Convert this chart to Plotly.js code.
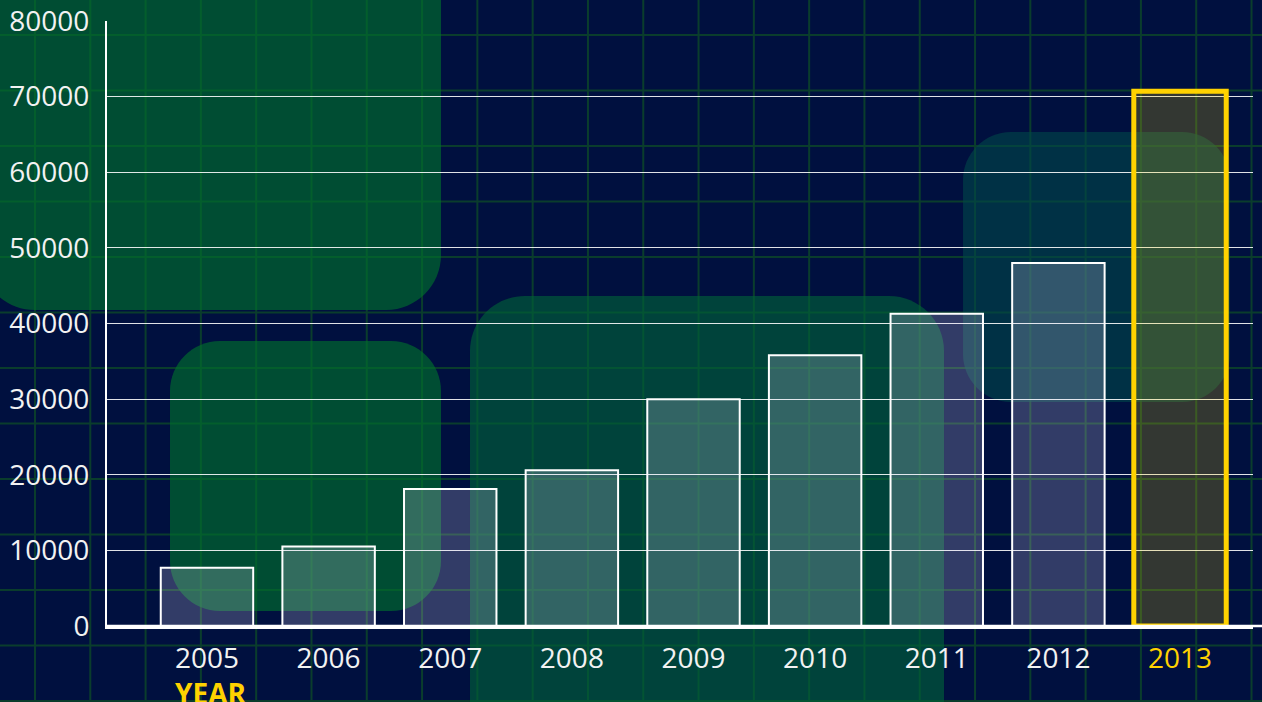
<!DOCTYPE html>
<html>
<head>
<meta charset="utf-8">
<script src="https://cdn.plot.ly/plotly-3.0.1.min.js"></script>
<style>
  html, body { margin: 0; padding: 0; background: #00103f; }
  #chart {
    width: 1262px; height: 702px;
    background-color: #00103f;
    background-image:
      linear-gradient(to right, #0a3d2c 0, #0a3d2c 2px, transparent 2px),
      linear-gradient(to bottom, #0a3d2c 0, #0a3d2c 2px, transparent 2px);
    background-size: 55.3px 55.5px;
    background-position: 34px 34px;
  }
</style>
</head>
<body>
<div id="chart"></div>
<script>
// ---- data ----
const years = ['2005', '2006', '2007', '2008', '2009', '2010', '2011', '2012', '2013'];
const values = [7700, 10500, 18100, 20600, 30000, 35800, 41300, 48000, 70700];
const yTicks = [0, 10000, 20000, 30000, 40000, 50000, 60000, 70000, 80000];
const highlightYear = '2013';
const xTitle = 'YEAR';

// ---- styles ----
const YELLOW = '#ffd200';
const TXT = '#f2f2f2';
const FONT = 'Open Sans, Noto Sans, sans-serif';
const FS = 28;

const fillColors = years.map(y => y === highlightYear ? 'rgba(255,215,0,0.2)' : 'rgba(235,225,255,0.21)');
const lineColors = years.map(y => y === highlightYear ? YELLOW : '#ffffff');
const lineWidths = years.map(y => y === highlightYear ? 5 : 2);
const tickText = years.map(y => y === highlightYear ? '<span style="color:' + YELLOW + '">' + y + '</span>' : y);

// ---- layout geometry (pixels) ----
const W = 1262, H = 702, ML = 107, MR = 9, MT = 21, MB = 76;
const PW = W - ML - MR, PH = H - MT - MB;
const X = px => ((px - ML) / PW).toFixed(5);
const Y = py => ((H - MB - py) / PH).toFixed(5);

function roundRect(x0, y0, x1, y1, r) {
  const k = r * 0.448;
  return 'M' + X(x0 + r) + ',' + Y(y0) +
    ' L' + X(x1 - r) + ',' + Y(y0) +
    ' C' + X(x1 - k) + ',' + Y(y0) + ' ' + X(x1) + ',' + Y(y0 + k) + ' ' + X(x1) + ',' + Y(y0 + r) +
    ' L' + X(x1) + ',' + Y(y1 - r) +
    ' C' + X(x1) + ',' + Y(y1 - k) + ' ' + X(x1 - k) + ',' + Y(y1) + ' ' + X(x1 - r) + ',' + Y(y1) +
    ' L' + X(x0 + r) + ',' + Y(y1) +
    ' C' + X(x0 + k) + ',' + Y(y1) + ' ' + X(x0) + ',' + Y(y1 - k) + ' ' + X(x0) + ',' + Y(y1 - r) +
    ' L' + X(x0) + ',' + Y(y0 + r) +
    ' C' + X(x0) + ',' + Y(y0 + k) + ' ' + X(x0 + k) + ',' + Y(y0) + ' ' + X(x0 + r) + ',' + Y(y0) + ' Z';
}

const decoRects = [
  { box: [-20, -80, 441, 310, 55], fill: 'rgba(0,112,45,0.64)' },
  { box: [170, 341, 441, 611, 50], fill: 'rgba(0,112,45,0.64)' },
  { box: [470, 296, 944, 800, 55], fill: 'rgba(0,98,56,0.62)' },
  { box: [963, 132, 1230, 402, 48], fill: 'rgba(0,72,74,0.6)' }
];

const shapes = decoRects.map(d => ({
  type: 'path', xref: 'paper', yref: 'paper', layer: 'below',
  path: roundRect.apply(null, d.box),
  fillcolor: d.fill, line: { width: 0 }
}));
// baseline running to the right edge of the picture
shapes.push({
  type: 'line', xref: 'paper', yref: 'paper', layer: 'above',
  x0: Number(X(106)), x1: Number(X(W + 2)), y0: 0, y1: 0,
  line: { color: '#ffffff', width: 2.5 }
});

const trace = {
  type: 'bar',
  x: years,
  y: values,
  marker: {
    color: fillColors,
    line: { color: lineColors, width: lineWidths }
  },
  hoverinfo: 'x+y'
};

const layout = {
  width: W, height: H,
  margin: { l: ML, r: MR, t: MT, b: MB, pad: 0 },
  paper_bgcolor: 'rgba(0,0,0,0)',
  plot_bgcolor: 'rgba(0,0,0,0)',
  showlegend: false,
  bargap: 0.24,
  font: { family: FONT, color: TXT, size: FS },
  xaxis: {
    type: 'category',
    range: [-0.822, 8.60],
    tickvals: years,
    ticktext: tickText,
    showgrid: false,
    showline: true, linecolor: '#ffffff', linewidth: 2.5,
    ticks: '', ticklabelstandoff: 6,
    tickfont: { family: FONT, size: FS, color: TXT },
    zeroline: false, fixedrange: true
  },
  yaxis: {
    range: [0, 80000],
    tickvals: yTicks,
    ticktext: yTicks.map(String),
    showgrid: true, gridcolor: 'rgba(255,255,255,0.88)', gridwidth: 1,
    showline: true, linecolor: '#ffffff', linewidth: 2,
    zeroline: false,
    ticks: '', ticklabelstandoff: 10,
    tickfont: { family: FONT, size: FS, color: TXT },
    fixedrange: true
  },
  annotations: [{
    text: '<b>' + xTitle + '</b>',
    xref: 'paper', yref: 'paper',
    x: Number(X(210)), y: Number(Y(693)),
    xanchor: 'center', yanchor: 'middle',
    showarrow: false,
    font: { family: FONT, size: FS, color: YELLOW }
  }],
  shapes: shapes
};

Plotly.newPlot('chart', [trace], layout, { displayModeBar: false, staticPlot: true });
</script>
</body>
</html>
